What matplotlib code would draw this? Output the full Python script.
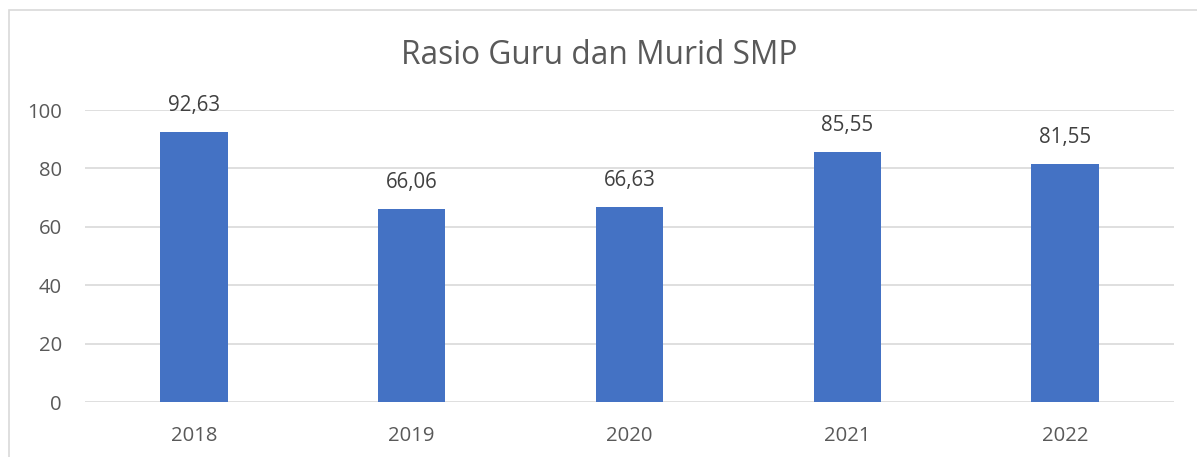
import matplotlib.pyplot as plt
from matplotlib.patches import Rectangle

# data
years = ["2018", "2019", "2020", "2021", "2022"]
ratio = [92.63, 66.06, 66.63, 85.55, 81.55]
labels = ["92,63", "66,06", "66,63", "85,55", "81,55"]
y_ticks = [0, 20, 40, 60, 80, 100]

plt.rcParams['font.family'] = ['Open Sans', 'DejaVu Sans']
txt_color = '#595959'

fig = plt.figure(figsize=(11.97, 4.57), dpi=100)
ax = fig.add_axes([85 / 1197, 55 / 457, 1089 / 1197, 292 / 457])

x = range(len(years))
bars = ax.bar(x, ratio, width=0.31, color='#4472C4', zorder=2)

for b, lab in zip(bars, labels):
    ax.annotate(lab, (b.get_x() + b.get_width() / 2, b.get_height()),
                xytext=(0, 11.5), textcoords='offset points',
                ha='center', va='bottom', fontsize=14.8, color='#404040')

ax.set_xlim(-0.5, len(years) - 0.5)
ax.set_ylim(0, 100)
ax.set_yticks(y_ticks)
ax.set_xticks(list(x))
ax.set_xticklabels(years)
ax.tick_params(axis='both', length=0, labelsize=14.6, labelcolor=txt_color)
ax.tick_params(axis='y', pad=16.5)
ax.tick_params(axis='x', pad=17)
ax.grid(axis='y', color='#D9D9D9', linewidth=1.2, zorder=0)
for s in ax.spines.values():
    s.set_visible(False)

fig.text(599 / 1197, 1 - 56 / 457, "Rasio Guru dan Murid SMP", ha='center', va='center',
         fontsize=22.8, color=txt_color)

# chart border (only top and left visible in the crop)
fig.add_artist(Rectangle((9 / 1197, -0.05), 1.2, 1 - 10 / 457 + 0.05, transform=fig.transFigure,
                         fill=False, edgecolor='#D9D9D9', linewidth=1.2))

fig.savefig('out.png', dpi=100)
